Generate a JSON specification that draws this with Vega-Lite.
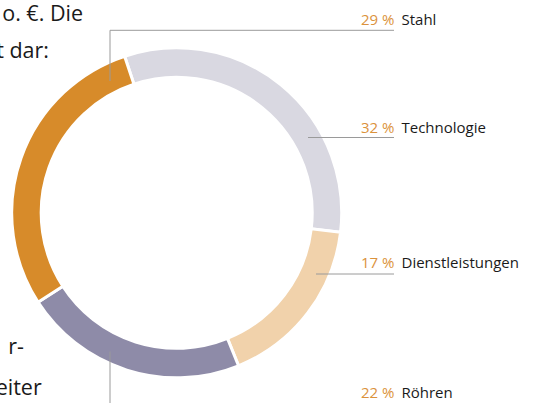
{
  "$schema": "https://vega.github.io/schema/vega-lite/v6.json",
  "width": 538,
  "height": 403,
  "autosize": {"type": "none"},
  "padding": 0,
  "background": "white",
  "config": {"view": {"stroke": null}, "text": {"font": "Open Sans"}},
  "data": {"values": [
    {"category": "Technologie", "pct": 32, "rank": 1, "label": "32 %"},
    {"category": "Dienstleistungen", "pct": 17, "rank": 2, "label": "17 %"},
    {"category": "Röhren", "pct": 22, "rank": 3, "label": "22 %"},
    {"category": "Stahl", "pct": 29, "rank": 4, "label": "29 %"}
  ]},
  "layer": [
    {
      "mark": {"type": "arc", "radius": 165, "radius2": 135.5, "stroke": "white", "strokeWidth": 3},
      "encoding": {
        "x": {"datum": 176.7, "type": "quantitative", "scale": {"domain": [0, 538], "nice": false, "zero": false}, "axis": null},
        "y": {"datum": 212.8, "type": "quantitative", "scale": {"domain": [0, 403], "nice": false, "zero": false, "reverse": true}, "axis": null},
        "theta": {"field": "pct", "type": "quantitative", "stack": true, "scale": {"range": [-0.321, 5.962]}},
        "order": {"field": "rank", "type": "quantitative"},
        "color": {"field": "category", "type": "nominal", "legend": null,
          "scale": {"domain": ["Technologie", "Dienstleistungen", "Röhren", "Stahl"], "range": ["#D9D8E1", "#F1D2AB", "#8E8BA8", "#D78B2A"]}}
      }
    },
    {
      "data": {"values": [{}]},
      "mark": {"type": "rule", "color": "#9a9a9a", "strokeWidth": 1},
      "encoding": {
        "x": {"datum": 110, "type": "quantitative", "scale": {"domain": [0, 538], "nice": false, "zero": false}, "axis": null},
        "y": {"datum": 81, "type": "quantitative", "scale": {"domain": [0, 403], "nice": false, "zero": false, "reverse": true}, "axis": null},
        "y2": {"datum": 30.3}
      }
    },
    {
      "data": {"values": [{}]},
      "mark": {"type": "rule", "color": "#9a9a9a", "strokeWidth": 1},
      "encoding": {
        "x": {"datum": 110, "type": "quantitative", "scale": {"domain": [0, 538], "nice": false, "zero": false}, "axis": null},
        "x2": {"datum": 394},
        "y": {"datum": 30.3, "type": "quantitative", "scale": {"domain": [0, 403], "nice": false, "zero": false, "reverse": true}, "axis": null}
      }
    },
    {
      "data": {"values": [{}]},
      "mark": {"type": "rule", "color": "#9a9a9a", "strokeWidth": 1},
      "encoding": {
        "x": {"datum": 308, "type": "quantitative", "scale": {"domain": [0, 538], "nice": false, "zero": false}, "axis": null},
        "x2": {"datum": 394},
        "y": {"datum": 137.5, "type": "quantitative", "scale": {"domain": [0, 403], "nice": false, "zero": false, "reverse": true}, "axis": null}
      }
    },
    {
      "data": {"values": [{}]},
      "mark": {"type": "rule", "color": "#9a9a9a", "strokeWidth": 1},
      "encoding": {
        "x": {"datum": 316, "type": "quantitative", "scale": {"domain": [0, 538], "nice": false, "zero": false}, "axis": null},
        "x2": {"datum": 394},
        "y": {"datum": 274, "type": "quantitative", "scale": {"domain": [0, 403], "nice": false, "zero": false, "reverse": true}, "axis": null}
      }
    },
    {
      "data": {"values": [{}]},
      "mark": {"type": "rule", "color": "#9a9a9a", "strokeWidth": 1},
      "encoding": {
        "x": {"datum": 110, "type": "quantitative", "scale": {"domain": [0, 538], "nice": false, "zero": false}, "axis": null},
        "y": {"datum": 351.5, "type": "quantitative", "scale": {"domain": [0, 403], "nice": false, "zero": false, "reverse": true}, "axis": null},
        "y2": {"datum": 403}
      }
    },
    {
      "transform": [{"filter": "datum.category === 'Stahl'"}],
      "encoding": {"y": {"datum": 25, "type": "quantitative", "scale": {"domain": [0, 403], "nice": false, "zero": false, "reverse": true}, "axis": null}},
      "layer": [
        {"mark": {"type": "text", "align": "right", "baseline": "alphabetic", "fontSize": 15, "color": "#DB923C"},
         "encoding": {"x": {"datum": 394.5, "type": "quantitative", "scale": {"domain": [0, 538], "nice": false, "zero": false}, "axis": null}, "text": {"field": "label"}}},
        {"mark": {"type": "text", "align": "left", "baseline": "alphabetic", "fontSize": 15, "color": "#1a1a1a"},
         "encoding": {"x": {"datum": 401.5, "type": "quantitative", "scale": {"domain": [0, 538], "nice": false, "zero": false}, "axis": null}, "text": {"field": "category"}}}
      ]
    },
    {
      "transform": [{"filter": "datum.category === 'Technologie'"}],
      "encoding": {"y": {"datum": 132.5, "type": "quantitative", "scale": {"domain": [0, 403], "nice": false, "zero": false, "reverse": true}, "axis": null}},
      "layer": [
        {"mark": {"type": "text", "align": "right", "baseline": "alphabetic", "fontSize": 15, "color": "#DB923C"},
         "encoding": {"x": {"datum": 394.5, "type": "quantitative", "scale": {"domain": [0, 538], "nice": false, "zero": false}, "axis": null}, "text": {"field": "label"}}},
        {"mark": {"type": "text", "align": "left", "baseline": "alphabetic", "fontSize": 15, "color": "#1a1a1a"},
         "encoding": {"x": {"datum": 401.5, "type": "quantitative", "scale": {"domain": [0, 538], "nice": false, "zero": false}, "axis": null}, "text": {"field": "category"}}}
      ]
    },
    {
      "transform": [{"filter": "datum.category === 'Dienstleistungen'"}],
      "encoding": {"y": {"datum": 267.7, "type": "quantitative", "scale": {"domain": [0, 403], "nice": false, "zero": false, "reverse": true}, "axis": null}},
      "layer": [
        {"mark": {"type": "text", "align": "right", "baseline": "alphabetic", "fontSize": 15, "color": "#DB923C"},
         "encoding": {"x": {"datum": 394.5, "type": "quantitative", "scale": {"domain": [0, 538], "nice": false, "zero": false}, "axis": null}, "text": {"field": "label"}}},
        {"mark": {"type": "text", "align": "left", "baseline": "alphabetic", "fontSize": 15, "color": "#1a1a1a"},
         "encoding": {"x": {"datum": 401.5, "type": "quantitative", "scale": {"domain": [0, 538], "nice": false, "zero": false}, "axis": null}, "text": {"field": "category"}}}
      ]
    },
    {
      "transform": [{"filter": "datum.category === 'Röhren'"}],
      "encoding": {"y": {"datum": 398.3, "type": "quantitative", "scale": {"domain": [0, 403], "nice": false, "zero": false, "reverse": true}, "axis": null}},
      "layer": [
        {"mark": {"type": "text", "align": "right", "baseline": "alphabetic", "fontSize": 15, "color": "#DB923C"},
         "encoding": {"x": {"datum": 394.5, "type": "quantitative", "scale": {"domain": [0, 538], "nice": false, "zero": false}, "axis": null}, "text": {"field": "label"}}},
        {"mark": {"type": "text", "align": "left", "baseline": "alphabetic", "fontSize": 15, "color": "#1a1a1a"},
         "encoding": {"x": {"datum": 401.5, "type": "quantitative", "scale": {"domain": [0, 538], "nice": false, "zero": false}, "axis": null}, "text": {"field": "category"}}}
      ]
    },
    {
      "data": {"values": [{"t": "o. €. Die"}]},
      "mark": {"type": "text", "align": "right", "baseline": "alphabetic", "fontSize": 21.5, "color": "#1a1a1a"},
      "encoding": {
        "x": {"datum": 83, "type": "quantitative", "scale": {"domain": [0, 538], "nice": false, "zero": false}, "axis": null},
        "y": {"datum": 20.7, "type": "quantitative", "scale": {"domain": [0, 403], "nice": false, "zero": false, "reverse": true}, "axis": null},
        "text": {"field": "t"}
      }
    },
    {
      "data": {"values": [{"t": "t dar:"}]},
      "mark": {"type": "text", "align": "right", "baseline": "alphabetic", "fontSize": 21.5, "color": "#1a1a1a"},
      "encoding": {
        "x": {"datum": 49, "type": "quantitative", "scale": {"domain": [0, 538], "nice": false, "zero": false}, "axis": null},
        "y": {"datum": 58, "type": "quantitative", "scale": {"domain": [0, 403], "nice": false, "zero": false, "reverse": true}, "axis": null},
        "text": {"field": "t"}
      }
    },
    {
      "data": {"values": [{"t": "r-"}]},
      "mark": {"type": "text", "align": "right", "baseline": "alphabetic", "fontSize": 21.5, "color": "#1a1a1a"},
      "encoding": {
        "x": {"datum": 24, "type": "quantitative", "scale": {"domain": [0, 538], "nice": false, "zero": false}, "axis": null},
        "y": {"datum": 354, "type": "quantitative", "scale": {"domain": [0, 403], "nice": false, "zero": false, "reverse": true}, "axis": null},
        "text": {"field": "t"}
      }
    },
    {
      "data": {"values": [{"t": "eiter"}]},
      "mark": {"type": "text", "align": "right", "baseline": "alphabetic", "fontSize": 21.5, "color": "#1a1a1a"},
      "encoding": {
        "x": {"datum": 41.7, "type": "quantitative", "scale": {"domain": [0, 538], "nice": false, "zero": false}, "axis": null},
        "y": {"datum": 395, "type": "quantitative", "scale": {"domain": [0, 403], "nice": false, "zero": false, "reverse": true}, "axis": null},
        "text": {"field": "t"}
      }
    }
  ]
}
